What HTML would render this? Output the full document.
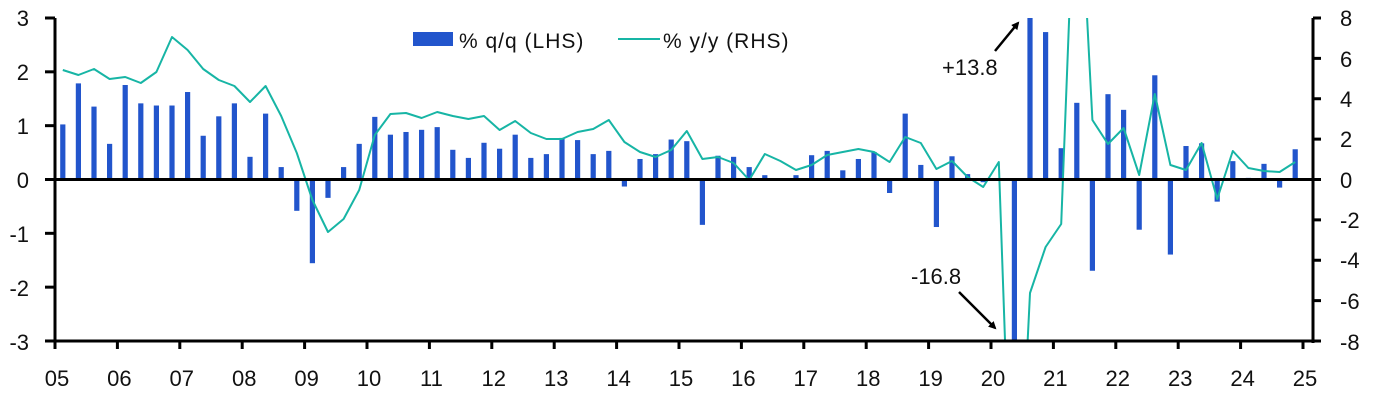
<!DOCTYPE html>
<html><head><meta charset="utf-8"><style>
html,body{margin:0;padding:0;background:#fff;width:1373px;height:401px;overflow:hidden;}
svg{display:block;font-family:"Liberation Sans","DejaVu Sans",sans-serif;}
</style></head><body>
<svg id="c" width="1373" height="401" viewBox="0 0 1373 401">
<defs><clipPath id="pl"><rect x="55" y="18" width="1258" height="323"/></clipPath>
<marker id="ah" markerWidth="8" markerHeight="8" refX="6" refY="4" orient="auto" markerUnits="userSpaceOnUse"><path d="M0,0 L8,4 L0,8 z" fill="#000"/></marker></defs>
<g id="bars" clip-path="url(#pl)" fill="#2255cc"></g>
<polyline id="ln" clip-path="url(#pl)" fill="none" stroke="#17b5a5" stroke-width="2" stroke-linejoin="round"/>
<line x1="55" y1="179.5" x2="1313" y2="179.5" stroke="#000" stroke-width="3"/>
<line x1="55" y1="18" x2="55" y2="343" stroke="#000" stroke-width="3"/>
<line x1="1313" y1="18" x2="1313" y2="343" stroke="#000" stroke-width="3"/>
<line x1="45" y1="341" x2="1321" y2="341" stroke="#000" stroke-width="3"/>
<g id="ticks" stroke="#000" stroke-width="3"></g>
<g font-size="22" fill="#111" text-anchor="end">
<text x="29" y="26">3</text><text x="29" y="80">2</text><text x="29" y="134">1</text><text x="29" y="188">0</text>
<text x="29" y="242">-1</text><text x="29" y="296">-2</text><text x="29" y="350">-3</text>
</g>
<g font-size="22" fill="#111" text-anchor="start">
<text x="1340" y="26">8</text><text x="1340" y="67">6</text><text x="1340" y="107">4</text><text x="1340" y="147">2</text>
<text x="1340" y="188">0</text><text x="1340" y="228">-2</text><text x="1340" y="268">-4</text><text x="1340" y="309">-6</text><text x="1340" y="350">-8</text>
</g>
<g font-size="22" fill="#111" text-anchor="middle">
<text x="57" y="386">05</text><text x="119.4" y="386">06</text><text x="181.8" y="386">07</text><text x="244.2" y="386">08</text><text x="306.6" y="386">09</text>
<text x="369" y="386">10</text><text x="431.4" y="386">11</text><text x="493.8" y="386">12</text><text x="556.2" y="386">13</text><text x="618.6" y="386">14</text>
<text x="681" y="386">15</text><text x="743.4" y="386">16</text><text x="805.8" y="386">17</text><text x="868.2" y="386">18</text><text x="930.6" y="386">19</text>
<text x="993" y="386">20</text><text x="1055.4" y="386">21</text><text x="1117.8" y="386">22</text><text x="1180.2" y="386">23</text><text x="1242.6" y="386">24</text><text x="1305" y="386">25</text>
</g>
<rect x="413" y="32" width="40" height="14" fill="#2255cc"/>
<text x="459" y="48" font-size="21" fill="#111" letter-spacing="1">% q/q (LHS)</text>
<line x1="618" y1="39" x2="660" y2="39" stroke="#17b5a5" stroke-width="2"/>
<text x="663" y="48" font-size="21" fill="#111" letter-spacing="1">% y/y (RHS)</text>
<text x="942" y="75" font-size="22" fill="#111">+13.8</text>
<line x1="995" y1="51" x2="1018" y2="23" stroke="#000" stroke-width="2.5" marker-end="url(#ah)"/>
<text x="911" y="284" font-size="22" fill="#111">-16.8</text>
<line x1="959" y1="292" x2="995" y2="328" stroke="#000" stroke-width="2.5" marker-end="url(#ah)"/>
</svg>
<script>
var q=[1.02,1.78,1.35,0.66, 1.75,1.41,1.37,1.37, 1.62,0.81,1.17,1.41, 0.42,1.22,0.23,-0.58,
-1.55,-0.34,0.23,0.66, 1.16,0.83,0.88,0.92, 0.97,0.55,0.40,0.68, 0.57,0.83,0.40,0.47,
0.77,0.73,0.47,0.53, -0.13,0.38,0.47,0.74, 0.71,-0.84,0.44,0.42, 0.23,0.08,0,0.08,
0.45,0.53,0.17,0.38, 0.51,-0.25,1.22,0.27, -0.88,0.43,0.10,-0.05, 0,-16.8,13.8,2.73,
0.58,1.42,-1.69,1.58, 1.29,-0.93,1.93,-1.39, 0.62,0.67,-0.41,0.34, 0.03,0.29,-0.15,0.56];
var ly=[70,75,69,79, 77,83,72,37, 50,69,80,86, 102,86,116,153, 200,232,219,190,
135,114,113,118, 112,116,119,116, 130,121,133,139, 139,132,129,120, 142,152,157,150,
131,159,157,163, 180,154,161,170, 165,155,152,149, 152,162,137,143, 169,161,177,187,
162,610,293,247, 224,-180,120,144, 128,175,94,165, 170,143,199,151, 168,171,172,162];
var ns="http://www.w3.org/2000/svg",b=document.getElementById('bars'),pts=[];
for(var i=0;i<q.length;i++){var x=55+62.4*(i+0.5)/4;var v=q[i];if(v!==0){var y0=179.5,y1=179.5-v*54;
var r=document.createElementNS(ns,'rect');r.setAttribute('x',x-2.6);r.setAttribute('width',5.2);
r.setAttribute('y',Math.min(y0,y1));r.setAttribute('height',Math.abs(y1-y0));b.appendChild(r);}
pts.push(x.toFixed(1)+','+ly[i]);}
document.getElementById('ln').setAttribute('points',pts.join(' '));
var t=document.getElementById('ticks'),s='';
for(var k=0;k<=20;k++){var x=55+62.4*k;s+='<line x1="'+x+'" y1="341" x2="'+x+'" y2="349"/>';}
for(var k=0;k<=6;k++){var y=18+k*53.83;s+='<line x1="45" y1="'+y+'" x2="55" y2="'+y+'"/>';}
for(var k=0;k<=8;k++){var y=18+k*40.375;s+='<line x1="1313" y1="'+y+'" x2="1321" y2="'+y+'"/>';}
t.innerHTML=s;
</script>
</body></html>
